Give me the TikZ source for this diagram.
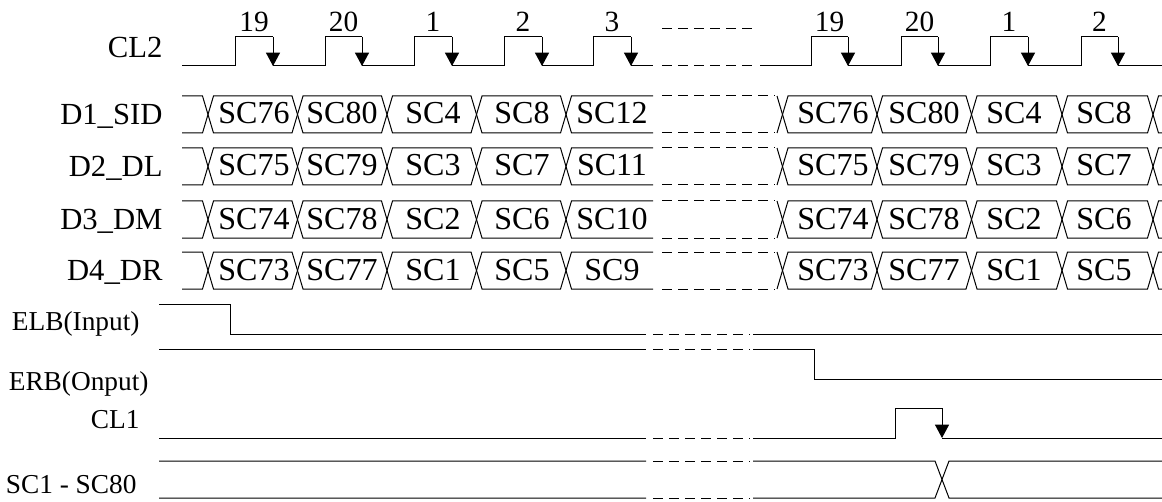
\documentclass[tikz,border=0pt]{standalone}
\usepackage{fontspec}
\setmainfont{Liberation Serif}
\usetikzlibrary{arrows.meta}

\tikzset{every picture/.style={line width=0.75pt}}
\tikzset{
  gap/.style={dash pattern={on 7.5pt off 4.5pt}},
  clk/.style={-{Triangle[width=10.5pt,length=10pt]}},
  lblup/.style={anchor=base east, inner sep=0pt, font=\fontsize{23}{27}\selectfont},
  lbllow/.style={anchor=base east, inner sep=0pt, font=\fontsize{20.5}{24}\selectfont},
  cell/.style={anchor=base, inner sep=0pt, font=\fontsize{24}{28}\selectfont},
  num/.style={anchor=base, inner sep=0pt, font=\fontsize{22}{26}\selectfont}
}

\begin{document}
\begin{tikzpicture}[x=0.75pt,y=0.75pt,yscale=-1,xscale=1]
\useasboundingbox (0,0) rectangle (1162,502);

%Shape: Clock CL2 (left part)
\draw  (182,66) -- (235,66) -- (235,37) -- (273,37) (273,66) -- (325,66) -- (325,37) -- (362,37) (362,66) -- (414,66) -- (414,37) -- (452,37) (452,66) -- (504,66) -- (504,37) -- (542,37) (542,66) -- (593,66) -- (593,37) -- (631,37) (631,66) -- (653,66) ;
\draw [clk] (273,37) -- (273,66) ;
\draw [clk] (362,37) -- (362,66) ;
\draw [clk] (452,37) -- (452,66) ;
\draw [clk] (542,37) -- (542,66) ;
\draw [clk] (631,37) -- (631,66) ;
%Straight Lines: gap
\draw [gap]  (662,29) -- (752,29) (662,66) -- (752,66) ;
%Shape: Clock CL2 (right part)
\draw  (760,66) -- (811,66) -- (811,37) -- (848,37) (848,66) -- (901,66) -- (901,37) -- (938,37) (938,66) -- (990,66) -- (990,37) -- (1028,37) (1028,66) -- (1081,66) -- (1081,37) -- (1118,37) (1118,66) -- (1162,66) ;
\draw [clk] (848,37) -- (848,66) ;
\draw [clk] (938,37) -- (938,66) ;
\draw [clk] (1028,37) -- (1028,66) ;
\draw [clk] (1118,37) -- (1118,66) ;
\draw   (254,32) node[num] (n1) {19} (343.5,32) node[num] (n2) {20} (433,32) node[num] (n3) {1} (523,32) node[num] (n4) {2} (612,32) node[num] (n5) {3} (829.5,32) node[num] (n6) {19} (919.5,32) node[num] (n7) {20} (1009,32) node[num] (n8) {1} (1099.5,32) node[num] (n9) {2} ;

%Shape: Bus D1_SID
\draw  (182,96) -- (202.5,96) -- (213.5,133) -- (292,133) -- (303,96) -- (381.5,96) -- (392.5,133) -- (471,133) -- (482,96) -- (560.5,96) -- (571.5,133) -- (653,133) ;
\draw  (182,133) -- (202.5,133) -- (213.5,96) -- (292,96) -- (303,133) -- (381.5,133) -- (392.5,96) -- (471,96) -- (482,133) -- (560.5,133) -- (571.5,96) -- (653,96) ;
\draw [gap]  (662,96) -- (775,96) (662,133) -- (775,133) ;
\draw  (777,96) -- (788,133) -- (871.5,133) -- (882.5,96) -- (966,96) -- (977,133) -- (1056.5,133) -- (1067.5,96) -- (1147.5,96) -- (1158.5,133) -- (1162,133) ;
\draw  (777,133) -- (788,96) -- (871.5,96) -- (882.5,133) -- (966,133) -- (977,96) -- (1056.5,96) -- (1067.5,133) -- (1147.5,133) -- (1158.5,96) -- (1162,96) ;
\draw   (254,124) node[cell] (a1) {SC76} (342,124) node[cell] (a2) {SC80} (433,124) node[cell] (a3) {SC4} (522,124) node[cell] (a4) {SC8} (612,124) node[cell] (a5) {SC12} (833,124) node[cell] (a6) {SC76} (924,124) node[cell] (a7) {SC80} (1014,124) node[cell] (a8) {SC4} (1104,124) node[cell] (a9) {SC8} ;

%Shape: Bus D2_DL
\draw  (182,148) -- (202.5,148) -- (213.5,185) -- (292,185) -- (303,148) -- (381.5,148) -- (392.5,185) -- (471,185) -- (482,148) -- (560.5,148) -- (571.5,185) -- (653,185) ;
\draw  (182,185) -- (202.5,185) -- (213.5,148) -- (292,148) -- (303,185) -- (381.5,185) -- (392.5,148) -- (471,148) -- (482,185) -- (560.5,185) -- (571.5,148) -- (653,148) ;
\draw [gap]  (662,148) -- (775,148) (662,185) -- (775,185) ;
\draw  (777,148) -- (788,185) -- (871.5,185) -- (882.5,148) -- (966,148) -- (977,185) -- (1056.5,185) -- (1067.5,148) -- (1147.5,148) -- (1158.5,185) -- (1162,185) ;
\draw  (777,185) -- (788,148) -- (871.5,148) -- (882.5,185) -- (966,185) -- (977,148) -- (1056.5,148) -- (1067.5,185) -- (1147.5,185) -- (1158.5,148) -- (1162,148) ;
\draw   (254,176) node[cell] (b1) {SC75} (342,176) node[cell] (b2) {SC79} (433,176) node[cell] (b3) {SC3} (522,176) node[cell] (b4) {SC7} (612,176) node[cell] (b5) {SC11} (833,176) node[cell] (b6) {SC75} (924,176) node[cell] (b7) {SC79} (1014,176) node[cell] (b8) {SC3} (1104,176) node[cell] (b9) {SC7} ;

%Shape: Bus D3_DM
\draw  (182,201) -- (202.5,201) -- (213.5,238) -- (292,238) -- (303,201) -- (381.5,201) -- (392.5,238) -- (471,238) -- (482,201) -- (560.5,201) -- (571.5,238) -- (653,238) ;
\draw  (182,238) -- (202.5,238) -- (213.5,201) -- (292,201) -- (303,238) -- (381.5,238) -- (392.5,201) -- (471,201) -- (482,238) -- (560.5,238) -- (571.5,201) -- (653,201) ;
\draw [gap]  (662,201) -- (775,201) (662,238) -- (775,238) ;
\draw  (777,201) -- (788,238) -- (871.5,238) -- (882.5,201) -- (966,201) -- (977,238) -- (1056.5,238) -- (1067.5,201) -- (1147.5,201) -- (1158.5,238) -- (1162,238) ;
\draw  (777,238) -- (788,201) -- (871.5,201) -- (882.5,238) -- (966,238) -- (977,201) -- (1056.5,201) -- (1067.5,238) -- (1147.5,238) -- (1158.5,201) -- (1162,201) ;
\draw   (254,229) node[cell] (c1) {SC74} (342,229) node[cell] (c2) {SC78} (433,229) node[cell] (c3) {SC2} (522,229) node[cell] (c4) {SC6} (612,229) node[cell] (c5) {SC10} (833,229) node[cell] (c6) {SC74} (924,229) node[cell] (c7) {SC78} (1014,229) node[cell] (c8) {SC2} (1104,229) node[cell] (c9) {SC6} ;

%Shape: Bus D4_DR
\draw  (182,252) -- (202.5,252) -- (213.5,289) -- (292,289) -- (303,252) -- (381.5,252) -- (392.5,289) -- (471,289) -- (482,252) -- (560.5,252) -- (571.5,289) -- (653,289) ;
\draw  (182,289) -- (202.5,289) -- (213.5,252) -- (292,252) -- (303,289) -- (381.5,289) -- (392.5,252) -- (471,252) -- (482,289) -- (560.5,289) -- (571.5,252) -- (653,252) ;
\draw [gap]  (662,252) -- (775,252) (662,289) -- (775,289) ;
\draw  (777,252) -- (788,289) -- (871.5,289) -- (882.5,252) -- (966,252) -- (977,289) -- (1056.5,289) -- (1067.5,252) -- (1147.5,252) -- (1158.5,289) -- (1162,289) ;
\draw  (777,289) -- (788,252) -- (871.5,252) -- (882.5,289) -- (966,289) -- (977,252) -- (1056.5,252) -- (1067.5,289) -- (1147.5,289) -- (1158.5,252) -- (1162,252) ;
\draw   (254,280) node[cell] (d1) {SC73} (342,280) node[cell] (d2) {SC77} (433,280) node[cell] (d3) {SC1} (522,280) node[cell] (d4) {SC5} (612,280) node[cell] (d5) {SC9} (833,280) node[cell] (d6) {SC73} (924,280) node[cell] (d7) {SC77} (1014,280) node[cell] (d8) {SC1} (1104,280) node[cell] (d9) {SC5} ;

%Straight Lines: ELB
\draw  (159,304) -- (230,304) -- (230,334) -- (646,334) (753,334) -- (1162,334) ;
\draw [gap]  (653,334) -- (750,334) ;
%Straight Lines: ERB
\draw  (159,349) -- (646,349) (753,349) -- (814,349) -- (814,379) -- (1162,379) ;
\draw [gap]  (653,349) -- (750,349) ;
%Shape: Clock CL1
\draw  (159,438) -- (646,438) (753,438) -- (895,438) -- (895,408) -- (942,408) (942,438) -- (1162,438) ;
\draw [clk] (942,408) -- (942,438) ;
\draw [gap]  (653,438) -- (750,438) ;
%Shape: Bus SC1 - SC80
\draw  (159,461) -- (646,461) (753,461) -- (935,461) -- (949,498) -- (1162,498) ;
\draw  (159,498) -- (646,498) (753,498) -- (935,498) -- (949,461) -- (1162,461) ;
\draw [gap]  (653,461) -- (750,461) (653,498) -- (750,498) ;

% Text Node
\draw (163,58) node[lblup] (cl2) {CL2};
% Text Node
\draw (163,125) node[lblup] (d1sid) {D1\_SID};
% Text Node
\draw (163,177) node[lblup] (d2dl) {D2\_DL};
% Text Node
\draw (163,229) node[lblup] (d3dm) {D3\_DM};
% Text Node
\draw (163,280) node[lblup] (d4dr) {D4\_DR};
% Text Node
\draw (140,330) node[lbllow] (elb) {ELB(Input)};
% Text Node
\draw (149,390) node[lbllow] (erb) {ERB(Onput)};
% Text Node
\draw (140,428) node[lbllow] (cl1) {CL1};
% Text Node
\draw (137,493) node[lbllow] (sc) {SC1 - SC80};

\end{tikzpicture}
\end{document}
